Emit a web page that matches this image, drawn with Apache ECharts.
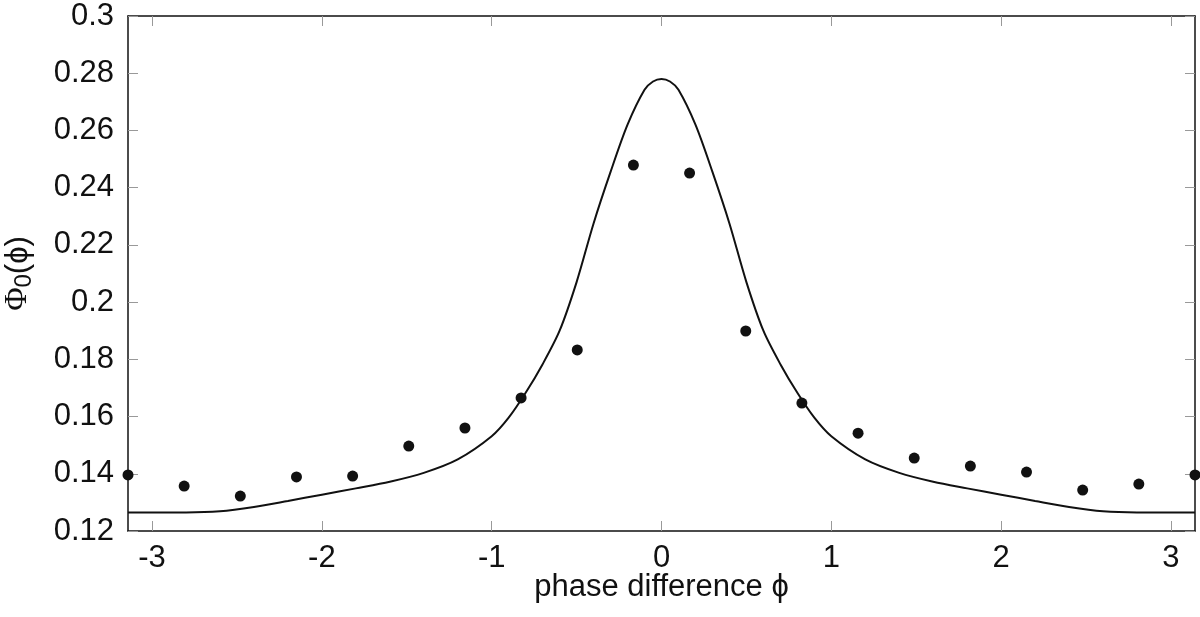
<!DOCTYPE html>
<html>
<head>
<meta charset="utf-8">
<script src="https://cdn.jsdelivr.net/npm/echarts@6/dist/echarts.min.js"></script>
<style>html,body{margin:0;padding:0;background:#fff}#c{width:1200px;height:617px}</style>
</head>
<body>
<div id="c"></div>
<script>
const xTicks = [-3, -2, -1, 0, 1, 2, 3];
const yTicks = [0.12, 0.14, 0.16, 0.18, 0.2, 0.22, 0.24, 0.26, 0.28, 0.3];
const pointX = [-3.1416, -2.8109, -2.4802, -2.1495, -1.8188, -1.4882, -1.1575, -0.8268, -0.4961, -0.1654,
                0.1654, 0.4961, 0.8268, 1.1575, 1.4882, 1.8188, 2.1495, 2.4802, 2.8109, 3.1416];
const pointY = [0.1396, 0.1357, 0.1322, 0.1389, 0.1392, 0.1497, 0.1560, 0.1665, 0.1833, 0.2479,
                0.2451, 0.1899, 0.1647, 0.1542, 0.1455, 0.1427, 0.1406, 0.1343, 0.1364, 0.1396];
const curveX = [-3.1416, -3.0, -2.8, -2.6, -2.4, -2.2, -2.0, -1.8, -1.6, -1.4, -1.2, -1.0, -0.9, -0.8, -0.7, -0.6,
                -0.5, -0.4, -0.3, -0.2, -0.1, -0.05, 0, 0.05, 0.1, 0.2, 0.3, 0.4, 0.5, 0.6, 0.7, 0.8, 0.9, 1.0, 1.2,
                1.4, 1.6, 1.8, 2.0, 2.2, 2.4, 2.6, 2.8, 3.0, 3.1416];
const curveY = [0.1265, 0.1265, 0.1265, 0.1269, 0.1284, 0.1305, 0.1327, 0.1349, 0.1372, 0.1403, 0.1450, 0.1531,
                0.1596, 0.1683, 0.1783, 0.1900, 0.2070, 0.2275, 0.2455, 0.2620, 0.2742, 0.2771, 0.2780, 0.2771,
                0.2742, 0.2620, 0.2455, 0.2275, 0.2070, 0.1900, 0.1783, 0.1683, 0.1596, 0.1531, 0.1450, 0.1403,
                0.1372, 0.1349, 0.1327, 0.1305, 0.1284, 0.1269, 0.1265, 0.1265, 0.1265];

const FONT = '"Liberation Sans", Arial, Helvetica, sans-serif';
const SERIF = '"Liberation Serif", "DejaVu Serif", serif';
const chart = echarts.init(document.getElementById('c'), null, {renderer: 'canvas'});
const tickStyle = {show: true, inside: true, length: 10, lineStyle: {color: '#999', width: 1}};
const lineStyle = {color: '#111', width: 1.5};
const fmt = v => String(Math.round(v * 100) / 100);

chart.setOption({
  animation: false,
  grid: {left: 128, right: 5, top: 16, bottom: 86, containLabel: false, outerBoundsMode: 'none'},
  xAxis: [{
    type: 'value', min: -Math.PI, max: Math.PI, position: 'bottom',
    axisLine: {show: true, onZero: false, lineStyle: lineStyle},
    axisTick: Object.assign({customValues: xTicks}, tickStyle),
    axisLabel: {customValues: xTicks, fontFamily: FONT, fontSize: 31, color: '#111', margin: 12, formatter: fmt},
    splitLine: {show: false},
    name: 'phase difference ϕ', nameLocation: 'middle', nameGap: 41, nameMoveOverlap: false,
    nameTextStyle: {fontFamily: FONT, fontSize: 31, color: '#111'}
  }, {
    type: 'value', min: -Math.PI, max: Math.PI, position: 'top',
    axisLine: {show: true, onZero: false, lineStyle: lineStyle},
    axisTick: Object.assign({customValues: xTicks}, tickStyle),
    axisLabel: {show: false},
    splitLine: {show: false}
  }],
  yAxis: [{
    type: 'value', min: 0.12, max: 0.3, interval: 0.02, position: 'left',
    axisLine: {show: true, onZero: false, lineStyle: lineStyle},
    axisTick: Object.assign({customValues: yTicks}, tickStyle),
    axisLabel: {customValues: yTicks, fontFamily: FONT, fontSize: 31, color: '#111', margin: 14, formatter: fmt},
    splitLine: {show: false},
    name: '{a|Φ}{s|0}{b|(ϕ)}', nameLocation: 'middle', nameGap: 92, nameMoveOverlap: false,
    nameTextStyle: {
      fontFamily: FONT, fontSize: 31, color: '#111',
      rich: {
        a: {fontFamily: SERIF, fontSize: 32, color: '#111', lineHeight: 36, verticalAlign: 'middle'},
        s: {fontFamily: FONT, fontSize: 24, color: '#111', lineHeight: 24, verticalAlign: 'bottom'},
        b: {fontFamily: FONT, fontSize: 31, color: '#111', lineHeight: 36, verticalAlign: 'middle'}
      }
    }
  }, {
    type: 'value', min: 0.12, max: 0.3, interval: 0.02, position: 'right',
    axisLine: {show: true, onZero: false, lineStyle: lineStyle},
    axisTick: Object.assign({customValues: yTicks}, tickStyle),
    axisLabel: {show: false},
    splitLine: {show: false}
  }],
  series: [{
    type: 'line', xAxisIndex: 0, yAxisIndex: 0,
    data: curveX.map((x, i) => [x, curveY[i]]),
    smooth: 0.3, showSymbol: false, symbol: 'none',
    lineStyle: {color: '#111', width: 2}
  }, {
    type: 'scatter', xAxisIndex: 0, yAxisIndex: 0,
    data: pointX.map((x, i) => [x, pointY[i]]),
    symbol: 'circle', symbolSize: 11, clip: false,
    itemStyle: {color: '#111', opacity: 1}
  }]
});
</script>
</body>
</html>
